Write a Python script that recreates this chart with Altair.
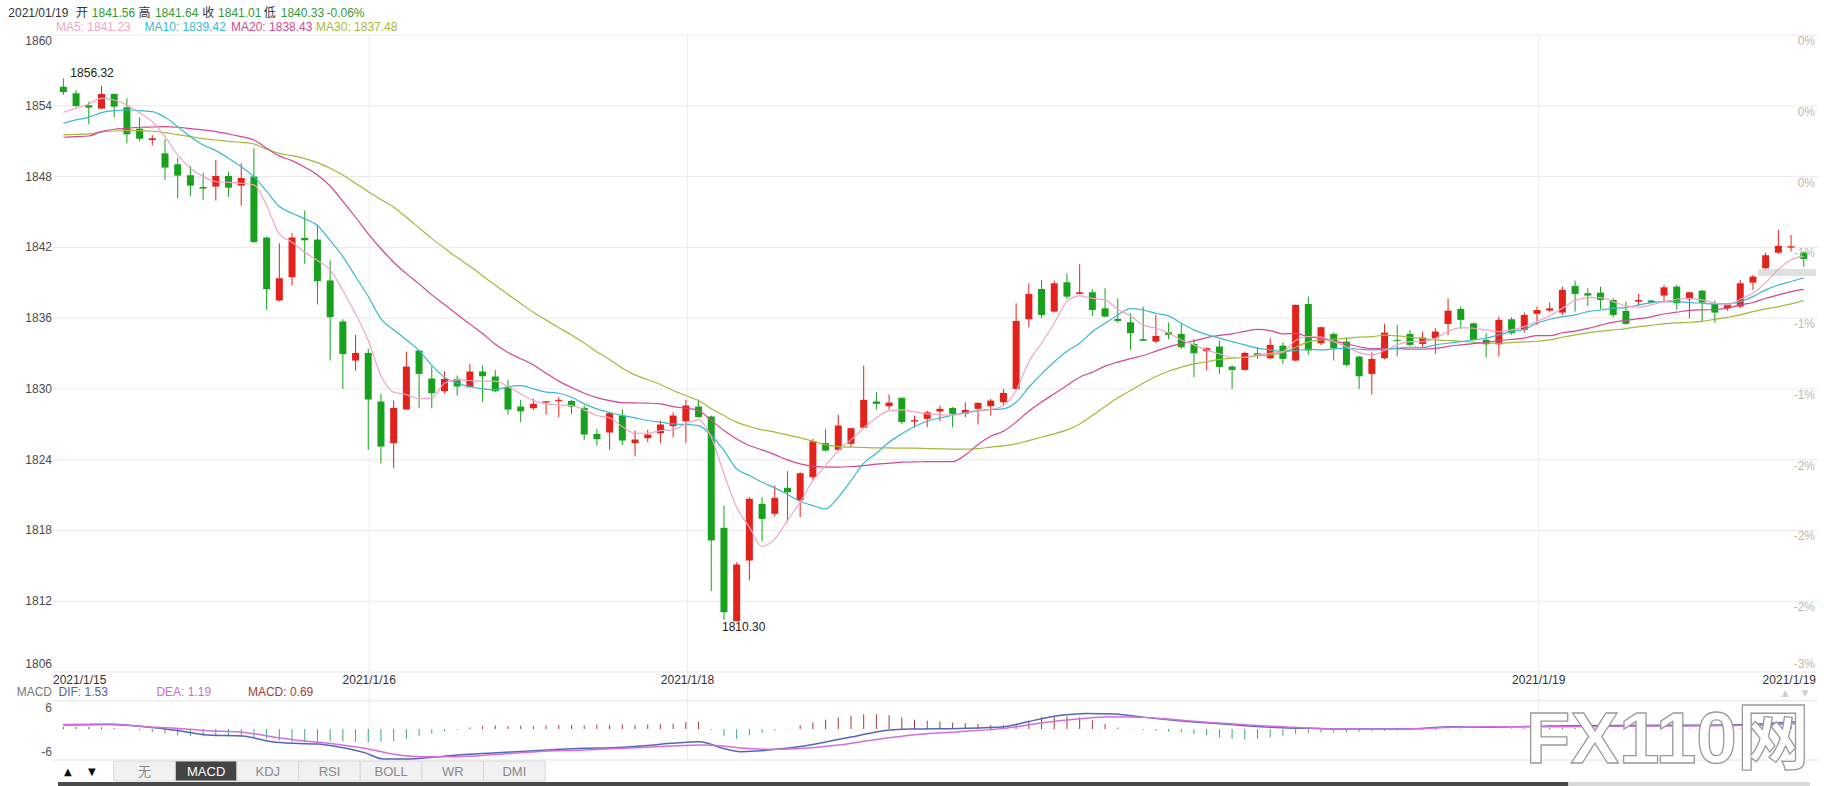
import altair as alt
import numpy as np
import pandas as pd

# ------------------------------------------------------------------ data
opens = [1855.62, 1855.06, 1854.04, 1853.76, 1855.00, 1853.87, 1852.06, 1851.10, 1849.97, 1849.04,
         1848.11, 1847.12, 1847.15, 1848.05, 1847.23, 1848.00, 1842.83, 1837.49, 1839.47, 1842.80,
         1842.66, 1839.19, 1835.71, 1832.40, 1833.05, 1828.93, 1825.40, 1828.25, 1833.25, 1830.88,
         1829.80, 1830.85, 1830.14, 1831.47, 1831.05, 1830.14, 1828.50, 1828.36, 1828.84, 1828.95,
         1828.98, 1828.39, 1826.19, 1826.30, 1827.74, 1825.40, 1825.82, 1826.24, 1826.84, 1827.26,
         1828.50, 1827.66, 1818.22, 1810.30, 1815.45, 1820.25, 1819.41, 1821.61, 1820.54, 1822.51,
         1825.40, 1824.83, 1825.34, 1826.70, 1828.93, 1828.53, 1829.24, 1827.23, 1827.46, 1828.08,
         1828.39, 1827.88, 1828.31, 1828.53, 1828.87, 1830.00, 1835.90, 1838.47, 1836.55, 1839.04,
         1838.05, 1838.19, 1836.83, 1835.93, 1835.65, 1834.21, 1834.01, 1834.80, 1834.66, 1833.81,
         1833.19, 1833.59, 1831.89, 1831.61, 1833.02, 1832.60, 1833.67, 1832.40, 1837.20, 1833.87,
         1834.66, 1834.01, 1832.74, 1831.27, 1832.60, 1834.15, 1834.66, 1833.81, 1834.29, 1835.51,
         1836.78, 1835.56, 1834.15, 1833.78, 1835.90, 1835.00, 1836.36, 1836.64, 1836.47, 1838.73,
         1838.11, 1838.16, 1837.54, 1836.61, 1837.40, 1837.49, 1837.91, 1838.67, 1837.60, 1838.33,
         1837.20, 1836.84, 1836.98, 1839.01, 1840.23, 1841.55, 1841.98, 1841.56]
highs = [1856.32, 1855.34, 1854.35, 1855.68, 1855.05, 1854.63, 1853.02, 1851.50, 1851.16, 1849.60,
         1848.90, 1848.33, 1849.40, 1848.42, 1849.12, 1850.40, 1842.90, 1842.35, 1843.20, 1845.12,
         1843.90, 1840.88, 1835.90, 1834.58, 1833.39, 1829.58, 1829.01, 1833.16, 1833.30, 1831.89,
         1831.50, 1831.13, 1832.12, 1831.98, 1831.61, 1830.76, 1829.07, 1829.15, 1828.95, 1829.30,
         1829.07, 1828.59, 1826.61, 1828.00, 1828.30, 1826.47, 1826.53, 1827.32, 1828.02, 1829.07,
         1829.07, 1827.74, 1820.11, 1815.30, 1820.82, 1820.82, 1821.81, 1823.02, 1822.94, 1825.76,
         1826.61, 1827.82, 1826.70, 1831.98, 1829.72, 1829.52, 1829.29, 1827.74, 1828.16, 1828.59,
         1828.45, 1828.87, 1828.87, 1829.15, 1830.00, 1837.26, 1838.95, 1839.24, 1839.18, 1839.80,
         1840.56, 1838.44, 1838.53, 1837.68, 1836.41, 1836.98, 1836.27, 1835.62, 1835.51, 1834.21,
         1833.50, 1834.10, 1832.00, 1833.16, 1833.53, 1834.29, 1833.95, 1837.15, 1837.82, 1835.28,
         1834.80, 1834.35, 1832.80, 1833.10, 1835.51, 1835.42, 1835.00, 1834.86, 1835.14, 1837.68,
         1836.98, 1835.62, 1834.72, 1836.13, 1836.07, 1836.47, 1836.98, 1837.32, 1838.67, 1839.18,
         1838.53, 1838.67, 1837.68, 1837.40, 1838.05, 1837.54, 1838.81, 1838.81, 1838.25, 1838.39,
         1837.49, 1837.20, 1839.24, 1839.66, 1841.55, 1843.47, 1843.05, 1841.64]
lows = [1854.92, 1853.87, 1852.43, 1853.70, 1853.02, 1850.82, 1851.02, 1850.65, 1847.71, 1846.16,
        1846.36, 1846.02, 1845.96, 1846.30, 1845.54, 1842.40, 1836.70, 1837.40, 1838.76, 1840.60,
        1837.15, 1832.40, 1830.00, 1831.55, 1824.83, 1823.70, 1823.28, 1828.20, 1828.36, 1828.36,
        1829.63, 1829.43, 1830.10, 1828.87, 1829.72, 1827.82, 1827.18, 1828.20, 1827.82, 1827.60,
        1827.88, 1825.68, 1825.20, 1824.83, 1825.25, 1824.27, 1825.48, 1825.40, 1825.90, 1825.40,
        1827.60, 1812.85, 1810.42, 1810.30, 1813.76, 1817.09, 1819.18, 1818.70, 1819.12, 1822.29,
        1824.69, 1824.80, 1825.06, 1826.65, 1828.25, 1828.25, 1827.03, 1826.70, 1826.75, 1827.26,
        1826.75, 1827.60, 1826.98, 1827.74, 1828.67, 1829.90, 1835.20, 1835.99, 1836.50, 1837.60,
        1838.00, 1836.19, 1836.07, 1835.62, 1833.31, 1834.05, 1833.87, 1834.21, 1833.39, 1831.00,
        1831.55, 1831.27, 1830.00, 1831.55, 1832.54, 1832.50, 1832.12, 1832.35, 1832.88, 1833.70,
        1832.40, 1831.90, 1830.00, 1829.52, 1832.50, 1832.74, 1833.60, 1833.53, 1832.97, 1834.58,
        1835.06, 1834.10, 1832.68, 1832.74, 1834.58, 1834.77, 1835.42, 1836.47, 1836.27, 1836.55,
        1837.03, 1836.75, 1836.07, 1835.42, 1837.03, 1837.26, 1837.32, 1836.69, 1835.99, 1835.76,
        1835.62, 1836.64, 1836.84, 1838.39, 1840.14, 1841.44, 1841.64, 1840.33]
closes = [1855.17, 1853.98, 1853.84, 1855.00, 1853.93, 1851.58, 1851.21, 1851.21, 1848.76, 1848.08,
          1847.23, 1846.98, 1848.05, 1847.06, 1847.88, 1842.44, 1838.45, 1839.38, 1842.83, 1842.60,
          1839.13, 1836.08, 1832.95, 1833.05, 1829.10, 1825.11, 1828.39, 1831.89, 1831.27, 1829.63,
          1830.85, 1830.20, 1831.47, 1831.07, 1829.80, 1828.25, 1828.10, 1828.73, 1828.92, 1829.04,
          1828.50, 1826.13, 1825.73, 1827.94, 1825.62, 1825.71, 1826.13, 1826.98, 1827.74, 1828.59,
          1827.60, 1817.15, 1811.07, 1815.11, 1820.68, 1818.98, 1820.76, 1821.24, 1822.85, 1825.56,
          1824.77, 1826.89, 1826.67, 1829.07, 1828.73, 1828.84, 1827.18, 1827.32, 1828.02, 1828.31,
          1827.88, 1828.22, 1828.81, 1829.01, 1829.66, 1835.76, 1838.05, 1836.27, 1838.95, 1837.82,
          1838.16, 1836.69, 1836.13, 1835.76, 1834.72, 1834.10, 1834.49, 1834.58, 1833.53, 1833.02,
          1833.45, 1831.86, 1831.61, 1833.05, 1832.82, 1833.73, 1832.54, 1837.12, 1833.25, 1835.23,
          1833.45, 1832.03, 1831.07, 1832.54, 1834.77, 1834.10, 1833.73, 1834.35, 1834.86, 1836.63,
          1835.85, 1834.15, 1833.78, 1835.85, 1834.72, 1836.27, 1836.69, 1836.83, 1838.39, 1838.05,
          1837.91, 1837.54, 1836.27, 1835.51, 1837.54, 1837.32, 1838.61, 1837.26, 1838.19, 1837.32,
          1836.47, 1837.12, 1838.95, 1839.52, 1841.33, 1842.12, 1842.06, 1841.01]

ma5 = [1853.45, 1853.80, 1854.15, 1854.63, 1854.49, 1854.07, 1853.40, 1852.66, 1851.38, 1849.83,
       1848.70, 1848.00, 1847.57, 1847.50, 1847.43, 1847.29, 1845.54, 1843.14, 1842.44, 1841.59,
       1840.88, 1840.09, 1838.34, 1836.36, 1834.10, 1831.13, 1829.72, 1829.52, 1829.15, 1829.24,
       1830.48, 1830.76, 1830.71, 1830.65, 1830.65, 1830.20, 1829.58, 1829.01, 1828.73, 1828.64,
       1828.59, 1828.22, 1827.74, 1827.54, 1826.81, 1826.24, 1826.24, 1826.47, 1826.53, 1827.03,
       1827.37, 1825.90, 1822.80, 1819.97, 1818.28, 1816.64, 1817.29, 1818.84, 1820.40, 1822.23,
       1823.50, 1824.77, 1825.68, 1826.69, 1827.54, 1828.16, 1828.22, 1828.05, 1827.88, 1827.82,
       1827.77, 1827.94, 1828.11, 1828.25, 1828.59, 1829.86, 1832.30, 1833.87, 1835.56, 1837.40,
       1837.88, 1837.68, 1837.54, 1836.75, 1836.19, 1835.42, 1835.14, 1834.72, 1834.15, 1833.73,
       1833.31, 1832.97, 1832.66, 1832.68, 1832.88, 1833.02, 1833.16, 1834.10, 1834.44, 1834.38,
       1834.01, 1833.59, 1833.08, 1832.88, 1833.25, 1833.73, 1834.01, 1834.01, 1834.29, 1834.86,
       1835.20, 1835.14, 1835.00, 1834.86, 1835.00, 1835.28, 1835.71, 1836.19, 1836.84, 1837.49,
       1837.74, 1837.74, 1837.40, 1837.03, 1836.92, 1837.12, 1837.40, 1837.60, 1837.68, 1837.54,
       1837.26, 1837.12, 1837.60, 1838.11, 1839.01, 1840.14, 1840.93, 1841.23]
ma10 = [1852.51, 1852.80, 1853.02, 1853.42, 1853.59, 1853.64, 1853.59, 1853.50, 1853.02, 1852.23,
        1851.38, 1850.68, 1850.20, 1849.55, 1848.84, 1847.99, 1846.76, 1845.46, 1844.89, 1844.41,
        1843.85, 1842.58, 1841.22, 1839.53, 1837.83, 1835.94, 1835.01, 1834.16, 1833.25, 1832.00,
        1830.99, 1830.48, 1830.20, 1830.00, 1829.92, 1830.20, 1830.28, 1830.00, 1829.72, 1829.63,
        1829.29, 1828.73, 1828.31, 1828.00, 1827.74, 1827.54, 1827.32, 1827.18, 1827.03, 1826.98,
        1826.89, 1826.05, 1824.77, 1823.22, 1822.66, 1822.09, 1821.61, 1821.05, 1820.48, 1820.11,
        1819.83, 1820.82, 1822.23, 1823.70, 1824.55, 1825.48, 1826.19, 1826.81, 1827.26, 1827.54,
        1827.77, 1827.99, 1828.16, 1828.25, 1828.31, 1828.87, 1830.14, 1831.27, 1832.30, 1833.20,
        1833.87, 1834.86, 1835.56, 1836.27, 1836.81, 1836.69, 1836.41, 1836.19, 1835.56, 1835.00,
        1834.60, 1834.30, 1834.01, 1833.73, 1833.45, 1833.31, 1833.16, 1833.25, 1833.36, 1833.31,
        1833.39, 1833.45, 1833.36, 1833.31, 1833.36, 1833.45, 1833.53, 1833.50, 1833.73, 1833.87,
        1834.01, 1834.15, 1834.29, 1834.58, 1834.86, 1835.06, 1835.56, 1835.90, 1836.13, 1836.27,
        1836.55, 1836.69, 1836.84, 1836.89, 1837.12, 1837.32, 1837.40, 1837.40, 1837.32, 1837.26,
        1837.20, 1837.20, 1837.40, 1837.82, 1838.39, 1838.81, 1839.10, 1839.42]
ma20 = [1851.33, 1851.38, 1851.44, 1851.81, 1852.01, 1852.09, 1852.18, 1852.20, 1852.23, 1852.18,
        1852.06, 1851.95, 1851.81, 1851.61, 1851.38, 1851.10, 1850.40, 1849.75, 1849.35, 1848.79,
        1848.14, 1847.20, 1845.90, 1844.55, 1843.14, 1841.88, 1840.74, 1839.77, 1838.90, 1837.97,
        1837.16, 1836.32, 1835.49, 1834.69, 1833.79, 1833.08, 1832.56, 1832.03, 1831.33, 1830.66,
        1830.12, 1829.63, 1829.26, 1829.01, 1828.83, 1828.81, 1828.79, 1828.73, 1828.50, 1828.36,
        1828.16, 1827.32, 1826.47, 1825.76, 1825.20, 1824.83, 1824.43, 1823.98, 1823.64, 1823.45,
        1823.36, 1823.36, 1823.42, 1823.50, 1823.62, 1823.70, 1823.79, 1823.81, 1823.84, 1823.84,
        1823.84, 1824.40, 1825.29, 1825.98, 1826.41, 1827.18, 1828.13, 1828.89, 1829.58, 1830.28,
        1830.99, 1831.41, 1831.93, 1832.27, 1832.57, 1832.83, 1833.20, 1833.56, 1833.84, 1834.07,
        1834.35, 1834.53, 1834.67, 1834.88, 1835.04, 1834.94, 1834.66, 1834.70, 1834.42, 1834.29,
        1834.06, 1833.83, 1833.57, 1833.41, 1833.41, 1833.41, 1833.37, 1833.36, 1833.43, 1833.61,
        1833.73, 1833.84, 1833.95, 1834.09, 1834.19, 1834.31, 1834.52, 1834.51, 1834.76, 1834.90,
        1835.13, 1835.40, 1835.66, 1835.81, 1835.95, 1836.11, 1836.35, 1836.50, 1836.66, 1836.70,
        1836.73, 1836.84, 1837.12, 1837.32, 1837.68, 1837.97, 1838.25, 1838.43]
ma30 = [1851.53, 1851.57, 1851.61, 1851.78, 1851.86, 1851.89, 1851.89, 1851.84, 1851.72, 1851.55,
        1851.38, 1851.21, 1851.10, 1850.99, 1850.90, 1850.76, 1850.31, 1849.97, 1849.77, 1849.52,
        1849.18, 1848.70, 1848.14, 1847.43, 1846.72, 1846.05, 1845.40, 1844.55, 1843.65, 1842.74,
        1841.93, 1841.13, 1840.39, 1839.59, 1838.79, 1838.01, 1837.24, 1836.49, 1835.83, 1835.19,
        1834.57, 1833.88, 1833.13, 1832.50, 1831.75, 1831.19, 1830.78, 1830.37, 1829.86, 1829.44,
        1829.01, 1828.31, 1827.74, 1827.18, 1826.81, 1826.53, 1826.33, 1826.10, 1825.85, 1825.56,
        1825.28, 1825.11, 1825.06, 1825.03, 1825.00, 1825.00, 1824.97, 1824.97, 1824.94, 1824.92,
        1824.89, 1824.89, 1824.94, 1825.06, 1825.17, 1825.34, 1825.62, 1825.90, 1826.19, 1826.53,
        1827.03, 1827.74, 1828.50, 1829.24, 1829.86, 1830.48, 1831.05, 1831.50, 1831.84, 1832.12,
        1832.30, 1832.50, 1832.60, 1832.68, 1832.80, 1832.88, 1833.08, 1833.53, 1833.98, 1834.15,
        1834.21, 1834.29, 1834.38, 1834.43, 1834.55, 1834.49, 1834.38, 1834.27, 1834.15, 1834.10,
        1834.04, 1833.95, 1833.90, 1833.87, 1833.93, 1833.98, 1834.04, 1834.15, 1834.38, 1834.58,
        1834.75, 1834.89, 1835.00, 1835.11, 1835.28, 1835.39, 1835.51, 1835.59, 1835.65, 1835.73,
        1835.90, 1836.07, 1836.27, 1836.55, 1836.78, 1836.98, 1837.20, 1837.48]

macd_hist = [0.4, 0.45, 0.4, 0.35, 0.2, 0.05, -0.3, -0.6, -0.9, -1.3,
             -1.4, -1.5, -1.5, -1.5, -1.6, -1.8, -2.0, -2.3, -2.6, -2.7,
             -2.6, -2.5, -2.5, -2.6, -2.7, -2.6, -2.5, -2.0, -1.4, -0.9,
             -0.5, -0.2, 0.3, 0.6, 0.7, 0.6, 0.7, 0.6, 0.7, 0.8,
             0.8, 0.7, 0.9, 0.8, 0.9, 0.8, 0.9, 1.0, 1.1, 1.4,
             1.5, -0.2, -1.4, -2.0, -1.3, -0.8, -0.3, -0.1, 0.8, 1.35,
             1.9, 2.4, 2.7, 3.0, 3.0, 2.8, 2.4, 1.9, 1.7, 1.5,
             1.3, 1.2, 1.0, 0.8, 0.8, 1.0, 1.7, 2.4, 2.7, 2.6,
             2.4, 1.8, 1.0, 0.3, -0.1, -0.2, -0.35, -0.55, -0.7, -1.0,
             -1.35, -1.7, -2.0, -2.15, -2.0, -1.7, -1.35, -1.0, -0.8, -0.7,
             -0.7, -0.65, -0.55, -0.45, -0.4, -0.35, -0.3, -0.3, -0.25, -0.2,
             -0.2, -0.1, -0.05, 0.05, 0.1, 0.15, 0.2, 0.2, 0.25, 0.2,
             0.15, 0.1, 0.05, 0.0, -0.05, 0.0, 0.05, 0.05, 0.1, 0.1,
             0.05, 0.05, 0.1, 0.2, 0.35, 0.5, 0.6, 0.69]
dif_at = [0, 3.6, 6.4, 9.1, 11.4, 14.1, 16.4, 18.2, 20.0, 21.8, 23.7, 25.2, 27.3, 29.6, 31.9, 34.1,
          36.4, 39.1, 41.0, 43.2, 45.5, 47.8, 50.1, 51.9, 53.3, 54.6, 56.9, 58.3, 60.1, 61.9, 63.7,
          65.1, 66.8, 70.5, 74.1, 75.9, 78.7, 80.5, 82.8, 85.1, 87.8, 90.6, 93.3, 96.0, 98.8, 101.5,
          104.2, 107.0, 109.2, 111.5, 114.7, 117.0, 126.1, 132.9, 135.2, 137]
dif_val = [0.81, 0.94, 0.47, -0.34, -1.21, -1.42, -2.56, -2.90, -3.04, -3.71, -4.79, -6.07, -6.07,
           -5.60, -5.13, -4.79, -4.52, -4.12, -3.91, -3.78, -3.44, -2.90, -2.56, -3.91, -4.59, -4.45,
           -3.91, -3.44, -2.56, -1.69, -0.74, -0.20, 0.0, 0.13, 0.47, 1.48, 2.83, 3.17, 3.04, 2.36,
           1.69, 1.15, 0.61, 0.27, 0.13, 0.0, 0.0, 0.13, 0.47, 0.34, 0.47, 0.61, 0.74, 0.94, 1.28, 1.53]
dea_at = [0, 3.6, 6.4, 9.1, 11.4, 14.1, 16.4, 18.2, 20.9, 23.7, 26.4, 28.2, 30.9, 34.1, 37.3, 41.0,
          44.6, 47.8, 50.1, 51.9, 53.7, 56.0, 58.3, 61.0, 63.7, 66.8, 70.5, 74.1, 76.8, 79.6, 82.3,
          85.1, 87.8, 90.6, 93.3, 96.0, 98.8, 101.5, 104.2, 107.0, 109.2, 112.4, 117.0, 126.1, 132.9, 137]
dea_val = [0.94, 1.01, 0.47, 0.13, -0.34, -0.67, -1.55, -2.23, -2.90, -3.91, -5.26, -5.60, -5.60,
           -5.13, -4.59, -4.25, -3.85, -3.44, -3.24, -3.44, -3.91, -4.12, -3.91, -3.24, -2.23, -1.21,
           -0.54, 0.13, 1.15, 1.96, 2.50, 2.36, 1.82, 1.28, 0.81, 0.47, 0.13, 0.0, -0.07, 0.13, 0.34,
           0.47, 0.47, 0.61, 0.74, 1.19]

price_ticks = [1806, 1812, 1818, 1824, 1830, 1836, 1842, 1848, 1854, 1860]
pct_labels = ["-3%", "-2%", "-2%", "-2%", "-1%", "-1%", "-1%", "0%", "0%", "0%"]
day_lines = [24.08, 49.13, 116.14]
day_labels = ["2021/1/16", "2021/1/18", "2021/1/19"]
first_day, last_day = "2021/1/15", "2021/1/19"
high_mark = (0, 1856.32, "1856.32")
low_mark = (53, 1810.30, "1810.30")
header1 = ["2021/01/19", "开", "1841.56", "高", "1841.64", "收", "1841.01", "低", "1840.33", "-0.06%"]
header2 = ["MA5: 1841.23", "MA10: 1839.42", "MA20: 1838.43", "MA30: 1837.48"]
macd_legend = ["DIF: 1.53", "DEA: 1.19", "MACD: 0.69"]
macd_top_label, macd_bottom_label = "6", "-6"
tabs = ["无", "MACD", "KDJ", "RSI", "BOLL", "WR", "DMI"]
last_marker = (1839.58, 1840.17)

# ------------------------------------------------------------------ layout & style
FONT = "Liberation Sans, Arial, Noto Sans CJK SC, sans-serif"
RED, GREEN = "#e4221c", "#17a11d"
C_MA = {"MA5": "#f2a4c4", "MA10": "#3ab9ce", "MA20": "#d2488f", "MA30": "#a6b83b"}
PAD_L, PAD_T, W, H = 53, 35, 1765, 637
STEP, X0 = 12.776, 5.4
M_TOP, M_BOT = 5.74, -6.28
XS = alt.Scale(domain=[-X0 / STEP, (W - X0) / STEP], nice=False, zero=False)
PS = alt.Scale(domain=[1806, 1860], nice=False, zero=False)
MS = alt.Scale(domain=[M_BOT, M_TOP], range=[725, 665.7], nice=False, zero=False)


def ix(full_px):
    """canvas pixel -> index units on the shared x scale"""
    return (full_px - PAD_L - X0) / STEP


X = alt.X("i:Q", scale=XS, axis=None)

n = len(closes)
cdf = pd.DataFrame({"i": range(n), "o": opens, "h": highs, "l": lows, "c": closes})
cdf["col"] = np.where(cdf["c"] >= cdf["o"], RED, GREEN)
cdf["body"] = (cdf["c"] - cdf["o"]).abs()

# price grid + labels
pdf = pd.DataFrame({"p": price_ticks, "t": pct_labels})
hgrid = alt.Chart(pdf).mark_rule(color="#e9e9e9").encode(
    y=alt.Y("p:Q", scale=PS, axis=None), x=alt.value(0), x2=alt.value(W))


def ylab(flt, baseline, dy):
    return alt.Chart(pdf).transform_filter(flt).mark_text(
        align="right", baseline=baseline, dy=dy, fontSize=12, font=FONT, color="#4a4a4a").encode(
        x=alt.value(-1), y=alt.Y("p:Q", scale=PS, axis=None), text=alt.Text("p:Q", format="d"))


ylab_mid = ylab("datum.p > 1806 && datum.p < 1860", "middle", 0)
ylab_top = ylab("datum.p == 1860", "top", 1)
ylab_bot = ylab("datum.p == 1806", "bottom", -1)

vgrid = alt.Chart(pd.DataFrame({"i": day_lines})).mark_rule(color="#ececec").encode(
    x=X, y=alt.value(0), y2=alt.value(725))

box = alt.Chart(pd.DataFrame({"a": [last_marker[0]], "b": [last_marker[1]]})).mark_rect(
    color="#e0e0e0").encode(x=alt.value(1705), x2=alt.value(1763),
                            y=alt.Y("a:Q", scale=PS, axis=None), y2="b:Q")

wick = alt.Chart(cdf).mark_rule(strokeWidth=1).encode(
    x=X, y=alt.Y("l:Q", scale=PS, axis=None), y2="h:Q", color=alt.Color("col:N", scale=None))
body = alt.Chart(cdf).mark_bar(size=7).encode(
    x=X, y=alt.Y("o:Q", scale=PS, axis=None), y2="c:Q", color=alt.Color("col:N", scale=None))
doji = alt.Chart(cdf).transform_filter("datum.body < 0.12").mark_tick(
    orient="horizontal", size=7, thickness=1).encode(
    x=X, y=alt.Y("c:Q", scale=PS, axis=None), color=alt.Color("col:N", scale=None))

ma_layers = []
for name, vals in [("MA30", ma30), ("MA20", ma20), ("MA10", ma10), ("MA5", ma5)]:
    d = pd.DataFrame({"i": range(len(vals)), "v": vals})
    ma_layers.append(alt.Chart(d).mark_line(color=C_MA[name], strokeWidth=1.2, interpolate="monotone")
                     .encode(x=X, y=alt.Y("v:Q", scale=PS, axis=None)))

hi_txt = alt.Chart(pd.DataFrame({"i": [high_mark[0]], "p": [high_mark[1]], "t": [high_mark[2]]})).mark_text(
    align="left", baseline="alphabetic", dx=7, dy=-1, fontSize=12, font=FONT, color="#222").encode(
    x=X, y=alt.Y("p:Q", scale=PS, axis=None), text="t:N")
lo_txt = alt.Chart(pd.DataFrame({"i": [low_mark[0]], "p": [low_mark[1]], "t": [low_mark[2]]})).mark_text(
    align="center", baseline="top", dx=7, dy=1, fontSize=12, font=FONT, color="#222").encode(
    x=X, y=alt.Y("p:Q", scale=PS, axis=None), text="t:N")

pct_top = alt.Chart(pdf).transform_filter("datum.p > 1806").mark_text(
    align="right", baseline="top", dy=1, fontSize=12, font=FONT, color="#b8b8b8").encode(
    x=alt.value(W - 3), y=alt.Y("p:Q", scale=PS, axis=None), text="t:N")
pct_bot = alt.Chart(pdf).transform_filter("datum.p == 1806").mark_text(
    align="right", baseline="bottom", dy=-1, fontSize=12, font=FONT, color="#b8b8b8").encode(
    x=alt.value(W - 3), y=alt.Y("p:Q", scale=PS, axis=None), text="t:N")

DATE_Y = 649
dmid = alt.Chart(pd.DataFrame({"i": day_lines, "t": day_labels})).mark_text(
    align="center", baseline="alphabetic", fontSize=12, font=FONT, color="#333").encode(
    x=X, y=alt.value(DATE_Y), text="t:N")
dfirst = alt.Chart(pd.DataFrame({"t": [first_day]})).mark_text(
    align="left", baseline="alphabetic", fontSize=12, font=FONT, color="#333").encode(
    x=alt.value(0), y=alt.value(DATE_Y), text="t:N")
dlast = alt.Chart(pd.DataFrame({"t": [last_day]})).mark_text(
    align="right", baseline="alphabetic", fontSize=12, font=FONT, color="#333").encode(
    x=alt.value(W - 2), y=alt.value(DATE_Y), text="t:N")

# header lines
HG = "#349b34"
h1x = [3, 71, 87, 134, 150.5, 198, 214, 260, 277, 323]
h1c = ["#333", "#333", HG, "#333", HG, "#333", HG, "#333", HG, HG]
h1 = alt.Chart(pd.DataFrame({"i": [ix(v) for v in h1x], "t": header1, "c": h1c})).mark_text(
    align="left", baseline="alphabetic", fontSize=12, font=FONT).encode(
    x=X, y=alt.value(-17.7), text="t:N", color=alt.Color("c:N", scale=None))
h2x = [51, 140, 227, 312.5]
h2c = [C_MA["MA5"], C_MA["MA10"], C_MA["MA20"], C_MA["MA30"]]
h2 = alt.Chart(pd.DataFrame({"i": [ix(v) for v in h2x], "t": header2, "c": h2c})).mark_text(
    align="left", baseline="alphabetic", fontSize=12, font=FONT).encode(
    x=X, y=alt.value(-4.3), text="t:N", color=alt.Color("c:N", scale=None))

# MACD legend & labels
ml_x = [53.5, 152, 244]
ml_c = ["#5060ad", "#d06ad8", "#a33a3a"]
mleg = alt.Chart(pd.DataFrame({"i": [ix(v) for v in ml_x], "t": macd_legend, "c": ml_c})).mark_text(
    align="left", baseline="alphabetic", fontSize=12, font=FONT).encode(
    x=X, y=alt.value(660.7), text="t:N", color=alt.Color("c:N", scale=None))
mname = alt.Chart(pd.DataFrame({"t": ["MACD"]})).mark_text(
    align="right", baseline="alphabetic", fontSize=12, font=FONT, color="#777").encode(
    x=alt.value(-1), y=alt.value(660.7), text="t:N")
mtick_top = alt.Chart(pd.DataFrame({"v": [M_TOP], "t": [macd_top_label]})).mark_text(
    align="right", baseline="top", dy=2, fontSize=12, font=FONT, color="#555").encode(
    x=alt.value(-1), y=alt.Y("v:Q", scale=MS, axis=None), text="t:N")
mtick_bot = alt.Chart(pd.DataFrame({"v": [M_BOT], "t": [macd_bottom_label]})).mark_text(
    align="right", baseline="bottom", dy=-1, fontSize=12, font=FONT, color="#555").encode(
    x=alt.value(-1), y=alt.Y("v:Q", scale=MS, axis=None), text="t:N")
arrows_r = alt.Chart(pd.DataFrame({"i": [ix(1790), ix(1810)], "t": ["▲", "▼"]})).mark_text(
    baseline="middle", fontSize=9, font="DejaVu Sans", color="#d0d0d0").encode(
    x=X, y=alt.value(658), text="t:N")

# tab bar
TAB_L, TAB_W = 109, 62
tdf = pd.DataFrame({
    "t": tabs,
    "x0": [ix(TAB_L + k * TAB_W) for k in range(len(tabs))],
    "x1": [ix(TAB_L + (k + 1) * TAB_W) for k in range(len(tabs))],
    "xc": [ix(TAB_L + (k + 0.5) * TAB_W) for k in range(len(tabs))],
    "f": ["#444444" if t == "MACD" else "#f1f1f1" for t in tabs],
    "tc": ["#ffffff" if t == "MACD" else "#8a8a8a" for t in tabs],
})
tab_rect = alt.Chart(tdf).mark_rect(stroke="#d8d8d8", strokeWidth=1).encode(
    x=alt.X("x0:Q", scale=XS, axis=None), x2="x1:Q", y=alt.value(726), y2=alt.value(746),
    fill=alt.Fill("f:N", scale=None))
tab_txt = alt.Chart(tdf).mark_text(baseline="middle", fontSize=13, font=FONT).encode(
    x=alt.X("xc:Q", scale=XS, axis=None), y=alt.value(736.5), text="t:N",
    color=alt.Color("tc:N", scale=None))
arrows = alt.Chart(pd.DataFrame({"i": [ix(63), ix(87)], "t": ["▲", "▼"]})).mark_text(
    baseline="middle", fontSize=10, font="DejaVu Sans", color="#111").encode(
    x=X, y=alt.value(736.5), text="t:N")
strip = alt.Chart(pd.DataFrame({"x0": [ix(53), ix(1572)], "x1": [ix(1572), ix(1815)],
                                "f": ["#4a4a4a", "#d9d9d9"]})).mark_rect().encode(
    x=alt.X("x0:Q", scale=XS, axis=None), x2="x1:Q", y=alt.value(747), y2=alt.value(751),
    fill=alt.Fill("f:N", scale=None))

# watermark
wm = alt.Chart(pd.DataFrame({"i": [ix(1672)], "t": ["FX110网"]})).mark_text(
    align="center", baseline="middle", fontSize=73, fontWeight="bold", font=FONT,
    fill="#ffffff", stroke="#9a9a9a", strokeWidth=1.3).encode(
    x=X, y=alt.value(706), text="t:N")

# MACD panel
hdf = pd.DataFrame({"i": range(len(macd_hist)), "v": macd_hist})
hdf["col"] = np.where(hdf["v"] >= 0, "#a63a3a", "#3aa68b")
mgrid = alt.Chart(pd.DataFrame({"v": [M_TOP, M_BOT]})).mark_rule(color="#e4e4e4").encode(
    y=alt.Y("v:Q", scale=MS, axis=None), x=alt.value(0), x2=alt.value(W))
hist = alt.Chart(hdf).mark_rule(strokeWidth=1).encode(
    x=X, y=alt.Y("v:Q", scale=MS, axis=None), y2=alt.datum(0), color=alt.Color("col:N", scale=None))
dif = alt.Chart(pd.DataFrame({"i": dif_at, "v": dif_val})).mark_line(
    color="#5566b5", strokeWidth=1.5, interpolate="monotone").encode(
    x=X, y=alt.Y("v:Q", scale=MS, axis=None))
dea = alt.Chart(pd.DataFrame({"i": dea_at, "v": dea_val})).mark_line(
    color="#d46ee0", strokeWidth=1.5, interpolate="monotone").encode(
    x=X, y=alt.Y("v:Q", scale=MS, axis=None))

price = alt.layer(hgrid, vgrid, ylab_mid, ylab_top, ylab_bot, box, wick, body, doji, *ma_layers,
                  hi_txt, lo_txt, pct_top, pct_bot, dmid, dfirst, dlast, h1, h2, mleg, mname,
                  arrows_r, tab_rect, tab_txt, arrows, strip)
macd = alt.layer(mgrid, mtick_top, mtick_bot, hist, dif, dea)
top = alt.layer(wm)

chart = alt.layer(price, macd, top).resolve_scale(y="independent").properties(
    width=W, height=H,
    padding={"left": PAD_L, "top": PAD_T, "right": 1824 - PAD_L - W, "bottom": 786 - PAD_T - H},
    autosize=alt.AutoSizeParams(type="none"),
    background="#ffffff",
).configure(font=FONT).configure_view(stroke=None)

chart.save("out.html", embed_options={"renderer": "svg", "actions": False})
